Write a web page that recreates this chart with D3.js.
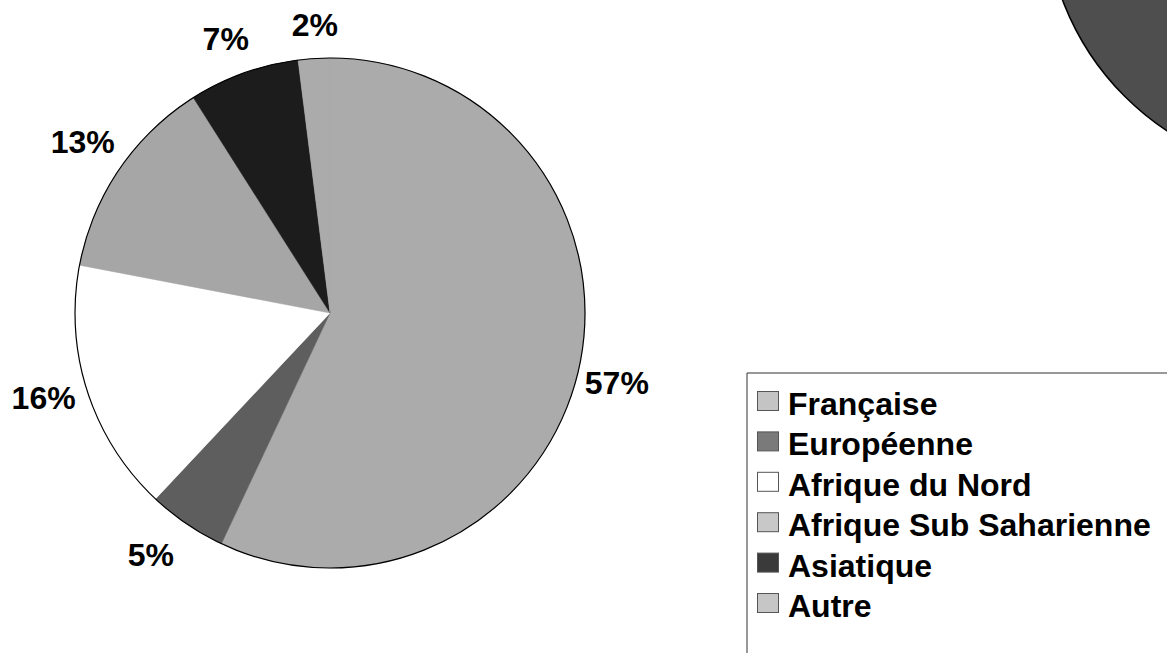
<!DOCTYPE html>
<html>
<head>
<meta charset="utf-8">
<script src="https://cdn.jsdelivr.net/npm/d3@7"></script>
<style>
  html, body { margin: 0; padding: 0; background: #fff; }
  svg { display: block; }
  text { font-family: "Liberation Sans", Arial, sans-serif; font-weight: bold; fill: #000; }
</style>
</head>
<body>
<svg id="chart" width="1167" height="653"></svg>
<script>
// ---- data ----
const categories = ["Française", "Européenne", "Afrique du Nord", "Afrique Sub Saharienne", "Asiatique", "Autre"];
const values = [57, 5, 16, 13, 7, 2];
const labels = ["57%", "5%", "16%", "13%", "7%", "2%"];

// ---- styles / layout ----
const colors = ["#ababab", "#5e5e5e", "#ffffff", "#a6a6a6", "#1c1c1c", "#ababab"];
const legendColors = ["#c4c4c4", "#7a7a7a", "#ffffff", "#c8c8c8", "#3a3a3a", "#c6c6c6"];
const labelNudge = [[-5, 9], [-16, 11], [-2, -2], [0, -15], [-6, -12], [3, -10]];

const W = 1167, H = 653;
const cx = 330, cy = 313, R = 255;
const svg = d3.select("#chart");

// partial pie of a neighbouring chart, cut off at the top-right corner
svg.append("circle")
  .attr("cx", 1317).attr("cy", -96).attr("r", 272)
  .attr("fill", "#4e4e4e").attr("stroke", "#000").attr("stroke-width", 1.5);

const pie = d3.pie().sort(null).value(d => d)(values);
const arc = d3.arc().innerRadius(0).outerRadius(R);

const g = svg.append("g").attr("transform", `translate(${cx},${cy})`);
g.selectAll("path.slice").data(pie).join("path")
  .attr("class", "slice")
  .attr("d", arc)
  .attr("fill", (d, i) => colors[i])
  .attr("stroke", (d, i) => colors[i])
  .attr("stroke-width", 0.5);

g.append("circle").attr("r", R).attr("fill", "none").attr("stroke", "#000").attr("stroke-width", 1.2);

// labels
const fs = 32;
const labelArc = d3.arc().innerRadius(R + 12).outerRadius(R + 12);
pie.forEach((d, i) => {
  const t = g.append("text").attr("font-size", fs).attr("text-anchor", "middle").text(labels[i]);
  const w = t.node().getComputedTextLength();
  const h = 24;
  const a = (d.startAngle + d.endAngle) / 2;
  const [px, py] = labelArc.centroid(d);
  const x = px + Math.sin(a) * w / 2 + labelNudge[i][0];
  const y = py - Math.cos(a) * h / 2 + labelNudge[i][1];
  t.attr("x", x).attr("y", y + fs * 0.36);
});

// legend
const lx = 747, ly = 373;
svg.append("path")
  .attr("d", `M${lx},${H + 2} L${lx},${ly} L${W + 2},${ly}`)
  .attr("fill", "none").attr("stroke", "#333").attr("stroke-width", 1);

const rowY = d3.scalePoint().domain(categories).range([415, 617]);
const leg = svg.append("g");
categories.forEach((c, i) => {
  const b = rowY(c);
  leg.append("rect")
    .attr("x", 757.5).attr("y", b - 23.5).attr("width", 21).attr("height", 19)
    .attr("fill", legendColors[i]).attr("stroke", "#555").attr("stroke-width", 1);
  leg.append("text").attr("x", 788).attr("y", b).attr("font-size", fs).text(c);
});
</script>
</body>
</html>
